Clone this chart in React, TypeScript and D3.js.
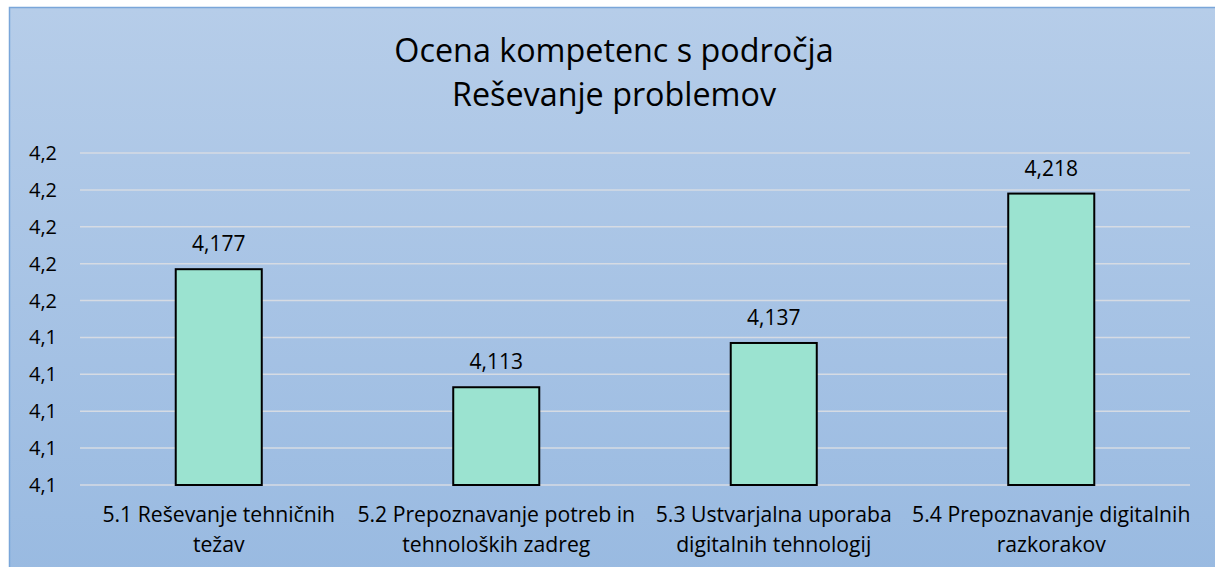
import React from "react";
import * as d3 from "d3";

const categories: string[][] = [
  ["5.1 Reševanje tehničnih", "težav"],
  ["5.2 Prepoznavanje potreb in", "tehnoloških zadreg"],
  ["5.3 Ustvarjalna uporaba", "digitalnih tehnologij"],
  ["5.4 Prepoznavanje digitalnih", "razkorakov"],
];
const values: number[] = [4.177, 4.113, 4.137, 4.218];
const yTicks: number[] = [4.06, 4.08, 4.1, 4.12, 4.14, 4.16, 4.18, 4.2, 4.22, 4.24];
const titleLines: string[] = ["Ocena kompetenc s področja", "Reševanje problemov"];

const W = 1215;
const H = 567;
const FONT = "'Open Sans', sans-serif";

export default function App() {
  const left = 80;
  const right = 1190;
  const top = 153;
  const bottom = 485;
  const x = d3
    .scaleBand<number>()
    .domain(d3.range(categories.length))
    .range([left, right])
    .paddingInner(0.69)
    .paddingOuter(0.345);
  const y = d3.scaleLinear().domain([4.06, 4.24]).range([bottom, top]);
  const fmt1 = (v: number) => d3.format(".1f")(v).replace(".", ",");
  const fmt3 = (v: number) => d3.format(".3f")(v).replace(".", ",");
  const band = (right - left) / categories.length;

  return (
    <svg
      width={W}
      height={H}
      style={{ position: "absolute", left: 0, top: 0, display: "block" }}
      fontFamily={FONT}
    >
      <defs>
        <linearGradient id="bg" x1="0" y1="0" x2="0" y2="1">
          <stop offset="0%" stopColor="#b6cde9" />
          <stop offset="100%" stopColor="#99bae1" />
        </linearGradient>
      </defs>
      <rect x={0} y={0} width={W} height={H} fill="#ffffff" />
      <rect x={9.5} y={7.5} width={W} height={H} fill="url(#bg)" stroke="#7aa6d9" strokeWidth={1.5} />
      {titleLines.map((t, i) => (
        <text
          key={i}
          x={614}
          y={62 + i * 44}
          textAnchor="middle"
          fontSize={32.3}
          fill="#000"
        >
          {t}
        </text>
      ))}
      {yTicks.map((t, i) => (
        <g key={i}>
          <line x1={left} x2={right} y1={y(t)} y2={y(t)} stroke="#d6dbe3" strokeWidth={1.5} />
          <text x={57} y={y(t) + 7} textAnchor="end" fontSize={20} fill="#000">
            {fmt1(t)}
          </text>
        </g>
      ))}
      {values.map((v, i) => (
        <g key={i}>
          <rect
            x={x(i)!}
            y={y(v)}
            width={x.bandwidth()}
            height={bottom - y(v)}
            fill="#9be3d0"
            stroke="#000"
            strokeWidth={2}
          />
          <text
            x={x(i)! + x.bandwidth() / 2}
            y={y(v) - 18}
            textAnchor="middle"
            fontSize={21}
            fill="#000"
          >
            {fmt3(v)}
          </text>
        </g>
      ))}
      {categories.map((lines, i) => (
        <text
          key={i}
          x={left + band * (i + 0.5)}
          textAnchor="middle"
          fontSize={21.2}
          fill="#000"
        >
          {lines.map((l, j) => (
            <tspan key={j} x={left + band * (i + 0.5)} y={522 + j * 30}>
              {l}
            </tspan>
          ))}
        </text>
      ))}
    </svg>
  );
}
